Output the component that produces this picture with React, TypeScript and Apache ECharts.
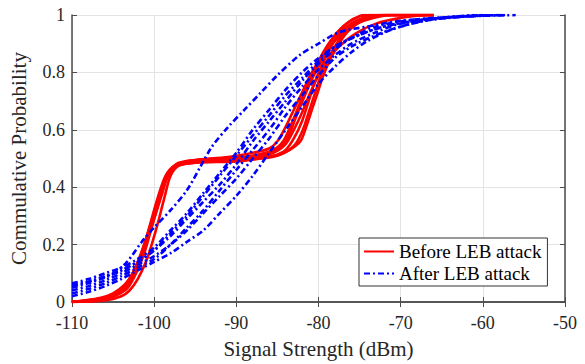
import React, { useEffect, useRef } from "react";
import * as echarts from "echarts";

const xTicks = [-110, -100, -90, -80, -70, -60, -50];
const yTicks = [0, 0.2, 0.4, 0.6, 0.8, 1];

const beforeName = "Before LEB attack";
const afterName = "After LEB attack";

const before1 = [[-110,0],[-107,0.005],[-105,0.02],[-104,0.04],[-103,0.08],[-102,0.14],[-101,0.22],[-100,0.31],[-99,0.4],[-98,0.46],[-97,0.485],[-95,0.495],[-91,0.505],[-88,0.52],[-86,0.535],[-85,0.56],[-84,0.61],[-83,0.67],[-82,0.73],[-81,0.79],[-80,0.84],[-79,0.89],[-78,0.93],[-77,0.96],[-76,0.98],[-74.5,1],[-66,1]];
const before2 = [[-110,0],[-107.5,0.005],[-105.5,0.015],[-104,0.035],[-103,0.07],[-102,0.12],[-101,0.2],[-100,0.29],[-99,0.38],[-98.2,0.45],[-97.2,0.48],[-95,0.49],[-91,0.5],[-88,0.51],[-85.5,0.53],[-84.3,0.56],[-83.3,0.62],[-82.3,0.69],[-81.3,0.76],[-80.3,0.82],[-79.3,0.87],[-78.2,0.92],[-77,0.96],[-75.5,0.99],[-73.5,1],[-66,1]];
const before3 = [[-110,0],[-106,0.005],[-104,0.02],[-103,0.04],[-102,0.08],[-101,0.14],[-100.3,0.2],[-99.5,0.28],[-98.7,0.37],[-98,0.44],[-97,0.475],[-95,0.485],[-90,0.49],[-87,0.5],[-85,0.51],[-83.5,0.53],[-82.2,0.56],[-81.5,0.61],[-80.8,0.67],[-80.1,0.73],[-79.4,0.79],[-78.5,0.85],[-77.5,0.9],[-76.5,0.94],[-75,0.975],[-73.7,0.99],[-72,1],[-66,1]];
const before4 = [[-110,0],[-106.5,0.005],[-104.5,0.025],[-103.2,0.05],[-102.2,0.1],[-101.2,0.17],[-100.3,0.26],[-99.4,0.35],[-98.5,0.43],[-97.5,0.47],[-96,0.49],[-92,0.5],[-88,0.505],[-85.5,0.52],[-84,0.55],[-83,0.6],[-82,0.66],[-81,0.73],[-80,0.79],[-79,0.84],[-77.5,0.89],[-75.5,0.935],[-73,0.97],[-70,0.99],[-67,1]];
const before5 = [[-110,0],[-108,0.005],[-106,0.015],[-104.5,0.03],[-103.3,0.06],[-102.3,0.11],[-101.4,0.18],[-100.5,0.27],[-99.6,0.36],[-98.6,0.44],[-97.5,0.475],[-95.5,0.49],[-92,0.495],[-88,0.5],[-85.5,0.51],[-84,0.53],[-83,0.57],[-82,0.63],[-81.2,0.7],[-80.4,0.77],[-79.5,0.83],[-78.5,0.89],[-77.3,0.94],[-76,0.97],[-74.5,0.99],[-72.5,1],[-66,1]];
const before6 = [[-110,0],[-107,0.01],[-105,0.025],[-103.8,0.05],[-102.8,0.09],[-101.8,0.15],[-100.8,0.23],[-99.9,0.32],[-99,0.4],[-98,0.455],[-96.8,0.48],[-94,0.49],[-90,0.5],[-87,0.51],[-85,0.53],[-83.8,0.57],[-82.8,0.64],[-81.8,0.71],[-80.9,0.77],[-80,0.82],[-79,0.87],[-78,0.91],[-76.5,0.95],[-74.5,0.98],[-71,1],[-66,1]];
const before7 = [[-110,0],[-108.5,0.005],[-106.5,0.015],[-105,0.03],[-103.6,0.06],[-102.6,0.1],[-101.6,0.16],[-100.6,0.24],[-99.7,0.33],[-98.8,0.41],[-97.8,0.46],[-96.5,0.48],[-93,0.49],[-89,0.495],[-86,0.505],[-84.2,0.52],[-82.8,0.55],[-81.9,0.6],[-81.2,0.66],[-80.4,0.73],[-79.7,0.79],[-78.8,0.85],[-77.8,0.9],[-76.8,0.94],[-75.3,0.975],[-73.5,0.995],[-72,1],[-66,1]];

const after1 = [[-110,0.06],[-107.5,0.075],[-105,0.1],[-103.3,0.14],[-101.5,0.21],[-100,0.26],[-98,0.32],[-96,0.39],[-94.4,0.47],[-93,0.54],[-91,0.61],[-89,0.67],[-87,0.73],[-85,0.79],[-82.3,0.86],[-80,0.9],[-77.5,0.94],[-74,0.96],[-70,0.98],[-65,0.99],[-60,1]];
const after2 = [[-110,0.05],[-108,0.065],[-106,0.085],[-104,0.11],[-102,0.14],[-100,0.18],[-98,0.23],[-96,0.29],[-94,0.35],[-92,0.41],[-90,0.48],[-88,0.56],[-86,0.63],[-84,0.7],[-82,0.77],[-80,0.83],[-78,0.88],[-76,0.92],[-73,0.96],[-68,0.985],[-62,0.995],[-56,1]];
const after3 = [[-110,0.03],[-108,0.045],[-106,0.065],[-104,0.09],[-102,0.12],[-100,0.15],[-98,0.2],[-96,0.26],[-94,0.32],[-92,0.39],[-90,0.46],[-88,0.53],[-86,0.6],[-84,0.68],[-82,0.75],[-80,0.81],[-78,0.86],[-76,0.9],[-73,0.94],[-70,0.97],[-65,0.99],[-58,1]];
const after4 = [[-110,0.055],[-108,0.07],[-106,0.09],[-104,0.11],[-102,0.14],[-100,0.18],[-98,0.24],[-96,0.3],[-94,0.37],[-92,0.44],[-90,0.51],[-88,0.58],[-86,0.65],[-84,0.72],[-82,0.78],[-80,0.84],[-78,0.89],[-75,0.93],[-72,0.96],[-68,0.98],[-63,0.995],[-57,1]];
const after5 = [[-110,0.02],[-108,0.035],[-106,0.055],[-104,0.08],[-102,0.11],[-100,0.14],[-98,0.17],[-96,0.21],[-94,0.25],[-92,0.31],[-90,0.37],[-88,0.44],[-86,0.52],[-84,0.6],[-82,0.68],[-80,0.76],[-78,0.82],[-76,0.87],[-74,0.91],[-71,0.95],[-67,0.98],[-62,0.995],[-58,1]];
const after6 = [[-110,0.04],[-108,0.055],[-106,0.075],[-104,0.1],[-102,0.13],[-100,0.16],[-98,0.2],[-96,0.25],[-94,0.31],[-92,0.37],[-90,0.43],[-88,0.5],[-86,0.57],[-84,0.65],[-82,0.72],[-80,0.79],[-78,0.85],[-76,0.89],[-73,0.93],[-70,0.96],[-66,0.985],[-60,1]];
const after7 = [[-110,0.065],[-108,0.08],[-106,0.1],[-104,0.12],[-102,0.15],[-100,0.19],[-98,0.25],[-96,0.31],[-94,0.38],[-92,0.45],[-90,0.52],[-88,0.6],[-86,0.67],[-84,0.74],[-82,0.8],[-80,0.85],[-78,0.89],[-76,0.92],[-72,0.96],[-67,0.985],[-61,1]];

const beforeCurves = [before1, before2, before3, before4, before5, before6, before7];
const afterCurves = [after1, after2, after3, after4, after5, after6, after7];

const FONT = "Liberation Serif";
const AXIS_COLOR = "#4d4d4d";
const TEXT_COLOR = "#262626";
const GRID_COLOR = "#e3e3e3";

export default function App() {
  const ref = useRef<HTMLDivElement>(null);
  useEffect(() => {
    document.body.style.margin = "0";
    if (!ref.current) return;
    const chart = echarts.init(ref.current, null, { renderer: "svg" });
    const series: any[] = [];
    beforeCurves.forEach((c) => {
      series.push({
        name: beforeName,
        type: "line",
        data: c,
        symbol: "none",
        smooth: 0.3,
        lineStyle: { color: "#ff0000", width: 2.6, type: "solid" },
        itemStyle: { color: "#ff0000" },
        z: 3,
      });
    });
    afterCurves.forEach((c) => {
      series.push({
        name: afterName,
        type: "line",
        data: c,
        symbol: "none",
        smooth: 0.3,
        lineStyle: { color: "#0000ff", width: 2.6, type: [6, 3, 2, 3] },
        itemStyle: { color: "#0000ff" },
        z: 4,
      });
    });
    const baseAxisLine = { show: true, lineStyle: { color: AXIS_COLOR, width: 1.5 } };
    const baseTick = { show: true, inside: true, length: 5, lineStyle: { color: AXIS_COLOR, width: 1 } };
    chart.setOption({
      animation: false,
      textStyle: { fontFamily: FONT },
      grid: { left: 72, right: 20, top: 15, bottom: 59 },
      legend: {
        data: [beforeName, afterName],
        orient: "vertical",
        left: 359,
        top: 238,
        itemWidth: 30,
        itemHeight: 14,
        itemGap: 3,
        padding: [4, 6, 3, 4],
        borderColor: "#333333",
        borderWidth: 1,
        backgroundColor: "#ffffff",
        itemStyle: { opacity: 0 },
        textStyle: { fontFamily: FONT, fontSize: 19, color: "#000000" },
      },
      xAxis: [
        {
          type: "value",
          min: xTicks[0],
          max: xTicks[xTicks.length - 1],
          interval: 10,
          position: "bottom",
          name: "Signal Strength (dBm)",
          nameLocation: "middle",
          nameGap: 36,
          nameTextStyle: { fontFamily: FONT, fontSize: 21, color: TEXT_COLOR },
          axisLine: baseAxisLine,
          axisTick: baseTick,
          axisLabel: { fontFamily: FONT, fontSize: 18, color: TEXT_COLOR, margin: 12 },
          splitLine: { show: true, lineStyle: { color: GRID_COLOR, width: 1 } },
        },
        {
          type: "value",
          min: xTicks[0],
          max: xTicks[xTicks.length - 1],
          interval: 10,
          position: "top",
          axisLine: baseAxisLine,
          axisTick: baseTick,
          axisLabel: { show: false },
          splitLine: { show: false },
        },
      ],
      yAxis: [
        {
          type: "value",
          min: yTicks[0],
          max: yTicks[yTicks.length - 1],
          interval: 0.2,
          position: "left",
          name: "Commulative Probability",
          nameLocation: "middle",
          nameGap: 43,
          nameTextStyle: { fontFamily: FONT, fontSize: 21, color: TEXT_COLOR },
          axisLine: baseAxisLine,
          axisTick: baseTick,
          axisLabel: { fontFamily: FONT, fontSize: 18, color: TEXT_COLOR, margin: 7 },
          splitLine: { show: true, lineStyle: { color: GRID_COLOR, width: 1 } },
        },
        {
          type: "value",
          min: yTicks[0],
          max: yTicks[yTicks.length - 1],
          interval: 0.2,
          position: "right",
          axisLine: baseAxisLine,
          axisTick: baseTick,
          axisLabel: { show: false },
          splitLine: { show: false },
        },
      ],
      series,
    });
    return () => chart.dispose();
  }, []);
  return <div ref={ref} style={{ width: 585, height: 364 }} />;
}
